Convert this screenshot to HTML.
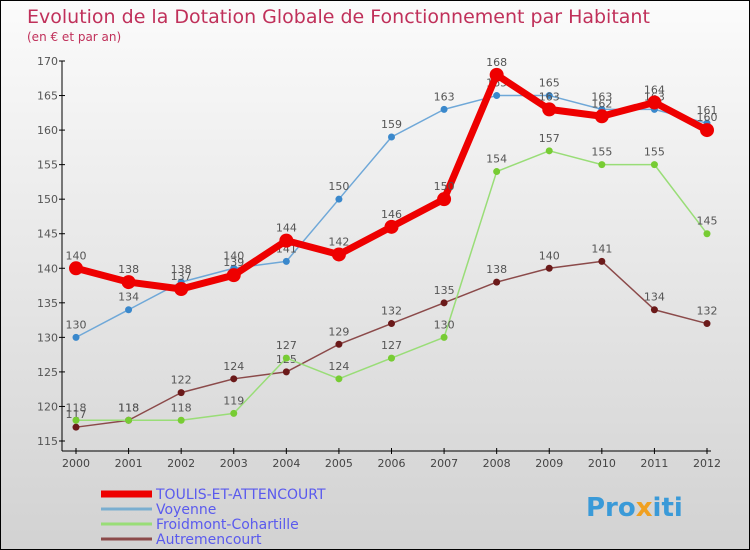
<!DOCTYPE html>
<html><head><meta charset="utf-8"><style>
body{margin:0}
#c{width:750px;height:550px;position:relative;overflow:hidden;border:1px solid #000;box-sizing:border-box;background:linear-gradient(#fbfbfb,#d2d2d2);font-family:"DejaVu Sans","Liberation Sans",sans-serif}
</style></head><body>
<div id="c">
<svg id="s" width="750" height="550" style="position:absolute;left:0;top:0">
<text x="26" y="22" font-size="19" fill="#c0305a">Evolution de la Dotation Globale de Fonctionnement par Habitant</text>
<text x="26" y="40" font-size="12" fill="#c0305a">(en € et par an)</text>
<text x="585" y="515" font-size="26" font-weight="bold" fill="#3a9ad8">Pro<tspan fill="#f0a020">x</tspan>iti</text>
</svg>
</div>
<script>
const years=["2000","2001","2002","2003","2004","2005","2006","2007","2008","2009","2010","2011","2012"];
const toulis=[140,138,137,139,144,142,146,150,168,163,162,164,160];
const voyenne=[130,134,138,140,141,150,159,163,165,165,163,163,161];
const froidmont=[118,118,118,119,127,124,127,130,154,157,155,155,145];
const autremencourt=[117,118,122,124,125,129,132,135,138,140,141,134,132];
const yTicks=[115,120,125,130,135,140,145,150,155,160,165,170];
const NS="http://www.w3.org/2000/svg";
const s=document.getElementById('s');
const X=i=>75+i*(706-75)/(years.length-1);
const Y=v=>60+(170-v)*(380/55);
function el(t,a,p){const e=document.createElementNS(NS,t);for(const k in a)e.setAttribute(k,a[k]);(p||s).appendChild(e);return e;}
let e;
e=el('line',{x1:61,y1:60,x2:61,y2:450,stroke:'#000'});


e=el('line',{x1:61,y1:450,x2:710,y2:450,stroke:'#000'});


yTicks.forEach(v=>{
 el('line',{x1:58,x2:64,y1:Y(v),y2:Y(v),stroke:'#000'});
 e=el('text',{x:57,y:Y(v)+4,'font-size':11,fill:'#555','text-anchor':'end'});
 e.textContent=v;
 
 
});
years.forEach((yr,i)=>{
 el('line',{x1:X(i),x2:X(i),y1:447,y2:453,stroke:'#000'});
 e=el('text',{x:X(i),y:466,'font-size':11,fill:'#444','text-anchor':'middle'});
 e.textContent=yr;
 
 
});
function series(data,col,dot,w,r,name){
 const g=el('g',{});
 
 
 el('polyline',{points:data.map((v,i)=>X(i)+','+Y(v)).join(' '),fill:'none',stroke:col,'stroke-width':w,'stroke-linejoin':'round'},g);
 data.forEach((v,i)=>{
  const c=el('circle',{cx:X(i),cy:Y(v),r:r,fill:dot},g);
  
  
  const t=el('text',{x:X(i),y:Y(v)-9,'font-size':11,fill:'#555','text-anchor':'middle'},g);
  t.textContent=v;
  
  
 });
}
series(autremencourt,'#8b4a4a','#6b1a1a',1.5,3.5,'autremencourt');
series(froidmont,'#99dd77','#77cc33',1.5,3.5,'froidmont');
series(voyenne,'#6fa8d8','#3a88cc',1.5,3.5,'voyenne');
series(toulis,'#ee0000','#ee0000',7,7,'toulis');
const legend=[['TOULIS-ET-ATTENCOURT','#ee0000',7],['Voyenne','#7aaed0',3],['Froidmont-Cohartille','#99dd77',3],['Autremencourt','#8b4a4a',3]];
legend.forEach((l,i)=>{
 const y=493+i*15;
 const g=el('g',{});
 
 
 el('line',{x1:100,x2:151,y1:y,y2:y,stroke:l[1],'stroke-width':l[2]},g);
 const t=el('text',{x:155,y:y+5,'font-size':14,fill:'#5a5aee'},g);
 t.textContent=l[0];
});
</script>
</body></html>
